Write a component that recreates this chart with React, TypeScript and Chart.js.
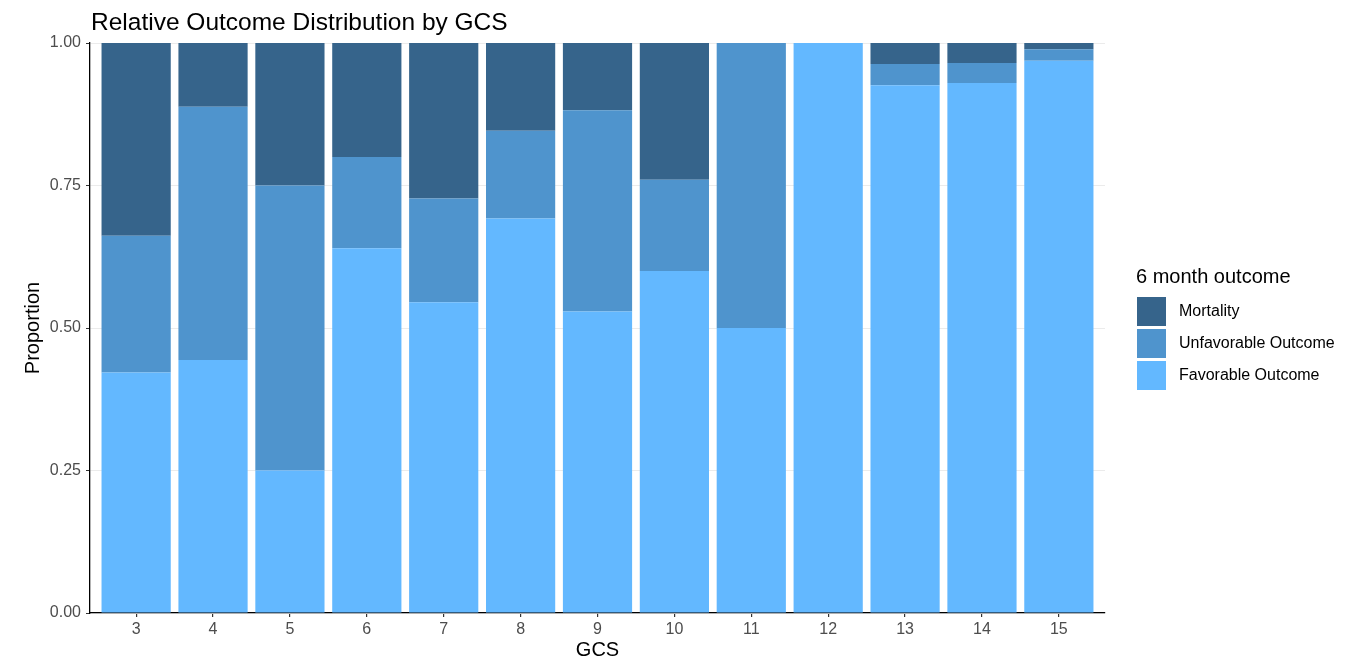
import React, { useEffect, useRef } from "react";
import { Chart, registerables } from "chart.js";

Chart.register(...registerables);

const GCS = [3, 4, 5, 6, 7, 8, 9, 10, 11, 12, 13, 14, 15];
const FAVORABLE = [0.422, 0.444, 0.25, 0.64, 0.545, 0.692, 0.529, 0.6, 0.5, 1.0, 0.926, 0.93, 0.969];
const UNFAVORABLE = [0.24, 0.444, 0.5, 0.16, 0.182, 0.154, 0.353, 0.16, 0.5, 0, 0.037, 0.035, 0.02];
const MORTALITY = [0.338, 0.112, 0.25, 0.2, 0.273, 0.154, 0.118, 0.24, 0, 0, 0.037, 0.035, 0.011];
const Y_TICKS = [0, 0.25, 0.5, 0.75, 1];

const TITLE = "Relative Outcome Distribution by GCS";
const X_TITLE = "GCS";
const Y_TITLE = "Proportion";
const LEGEND_TITLE = "6 month outcome";
const SERIES_NAMES = ["Favorable Outcome", "Unfavorable Outcome", "Mortality"];
const SERIES_COLORS = ["#63B8FF", "#4F94CD", "#36648B"];

const FONT = '"Liberation Sans", Arial, Helvetica, sans-serif';

const overlayPlugin = {
  id: "overlay",
  afterDraw(chart: any) {
    const ctx = chart.ctx;
    ctx.save();
    // main title
    ctx.fillStyle = "#000";
    ctx.font = `24.5px ${FONT}`;
    ctx.textAlign = "left";
    ctx.textBaseline = "alphabetic";
    ctx.fillText(TITLE, 91, 30);

    // legend
    const right = chart.chartArea.right;
    const lx = right + 32;
    ctx.font = `20px ${FONT}`;
    ctx.fillText(LEGEND_TITLE, lx - 1, 283);
    const ds = chart.data.datasets.slice().reverse();
    ds.forEach((d: any, i: number) => {
      const y = 297 + i * 32;
      ctx.fillStyle = d.backgroundColor;
      ctx.fillRect(lx, y, 29, 29);
      ctx.fillStyle = "#000";
      ctx.font = `16px ${FONT}`;
      ctx.textBaseline = "middle";
      ctx.fillText(d.label, lx + 42, y + 15);
    });
    ctx.restore();
  },
};

export default function App() {
  const canvasRef = useRef<HTMLCanvasElement | null>(null);

  useEffect(() => {
    if (!canvasRef.current) return;
    const mk = (vals: number[]) => vals.map((v, i) => ({ x: GCS[i], y: v }));
    const series = [FAVORABLE, UNFAVORABLE, MORTALITY];
    const chart = new Chart(canvasRef.current, {
      type: "bar",
      data: {
        datasets: series.map((vals, i) => ({
          label: SERIES_NAMES[i],
          data: mk(vals),
          backgroundColor: SERIES_COLORS[i],
          borderWidth: 0,
          barPercentage: 0.9,
          categoryPercentage: 1.0,
        })),
      },
      options: {
        animation: false,
        responsive: true,
        maintainAspectRatio: false,
        layout: { padding: { left: 0, right: 256, top: 43, bottom: 0 } },
        plugins: {
          legend: { display: false },
          title: { display: false },
          tooltip: { enabled: false },
        },
        scales: {
          x: {
            type: "linear",
            stacked: true,
            offset: false,
            min: GCS[0] - 0.6,
            max: GCS[GCS.length - 1] + 0.6,
            afterBuildTicks: (scale: any) => {
              scale.ticks = GCS.map((v) => ({ value: v }));
            },
            afterFit: (scale: any) => {
              scale.height = 49;
            },
            ticks: {
              callback: (v: any) => String(v),
              color: "#4D4D4D",
              font: { family: FONT, size: 16 },
              padding: 3,
              maxRotation: 0,
              autoSkip: false,
            },
            grid: {
              offset: false,
              drawOnChartArea: false,
              drawTicks: true,
              tickLength: 4,
              tickColor: "#333333",
              lineWidth: 1.2,
            },
            border: { display: true, color: "#000", width: 1.3 },
            title: {
              display: true,
              text: X_TITLE,
              color: "#000",
              font: { family: FONT, size: 20 },
              padding: { top: 0, bottom: 0 },
            },
          },
          y: {
            type: "linear",
            stacked: true,
            min: 0,
            max: 1,
            afterBuildTicks: (scale: any) => {
              scale.ticks = Y_TICKS.map((v) => ({ value: v }));
            },
            afterFit: (scale: any) => {
              scale.width = 90;
            },
            ticks: {
              callback: (v: any) => Number(v).toFixed(2),
              color: "#4D4D4D",
              font: { family: FONT, size: 16 },
              padding: 5,
            },
            grid: {
              drawOnChartArea: true,
              color: "#EBEBEB",
              lineWidth: 1,
              drawTicks: true,
              tickLength: 4,
              tickColor: "#333333",
            },
            border: { display: true, color: "#000", width: 1.3 },
            title: {
              display: true,
              text: Y_TITLE,
              color: "#000",
              font: { family: FONT, size: 20 },
              padding: { top: 21, bottom: 0 },
            },
          },
        },
      },
      plugins: [overlayPlugin],
    } as any);
    return () => chart.destroy();
  }, []);

  return (
    <div style={{ position: "absolute", left: 0, top: 0, width: 1361, height: 662, background: "#fff" }}>
      <canvas ref={canvasRef} />
    </div>
  );
}
